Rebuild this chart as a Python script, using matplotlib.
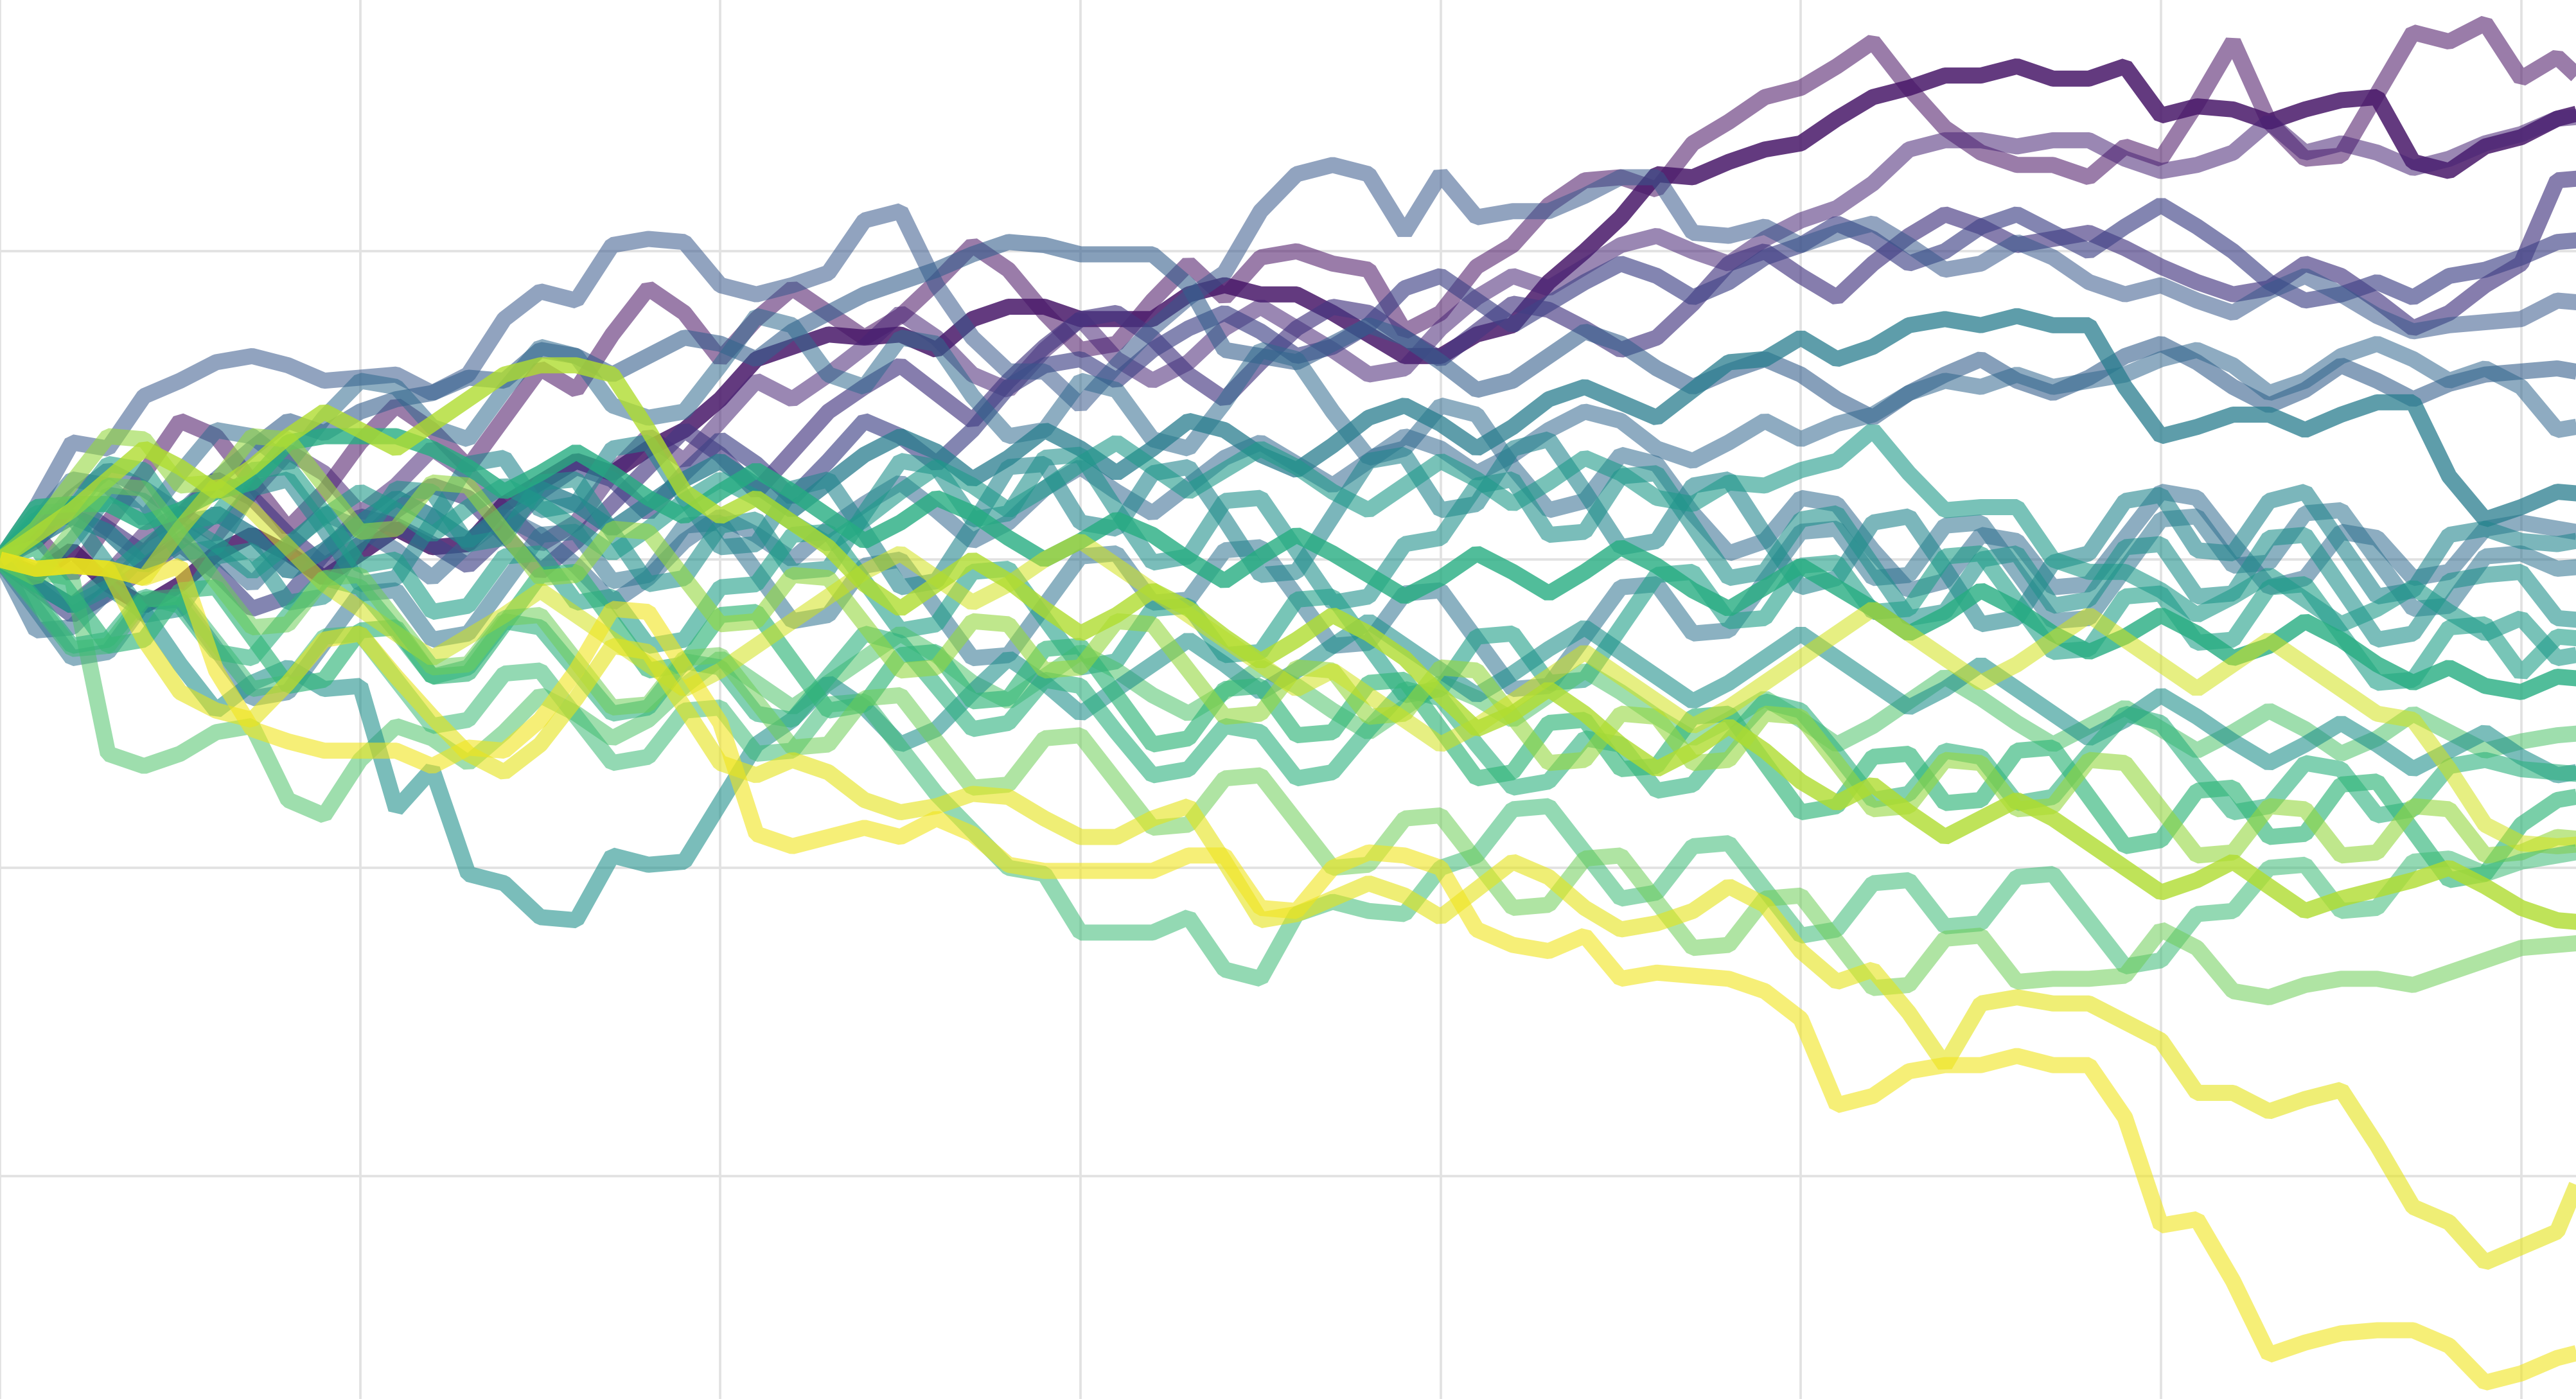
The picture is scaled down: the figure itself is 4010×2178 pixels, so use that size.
import numpy as np
import matplotlib
matplotlib.use("Agg")
import matplotlib.pyplot as plt

steps = np.arange(73)

# one list per walk, values per step (top finisher first)
purple_top = [0, 0.8, -0.5, 1.2, 2.8, 4.5, 4.0, 2.5, 1.0, 2.2,
              3.8, 5.0, 4.2, 3.0, 4.6, 6.2, 5.5, 7.3, 8.8, 8.0,
              6.5, 7.8, 8.8, 8.0, 7.2, 7.9, 9.0, 10.2, 9.4, 8.0,
              6.8, 7.0, 8.4, 9.6, 8.5, 9.8, 10.0, 9.6, 9.4, 7.4,
              8.0, 9.5, 10.2, 11.5, 12.3, 12.4, 12.0, 13.5, 14.2, 15.0,
              15.3, 16.0, 16.8, 15.3, 14.0, 13.2, 12.8, 12.8, 12.4, 13.4,
              13.0, 14.8, 16.8, 14.2, 13.0, 13.1, 15.1, 17.1, 16.8, 17.4,
              15.6, 16.3, 15.2]
purple_dark = [0, -0.5, 0.3, -0.8, -1.5, -0.8, 0.2, 0.8, 0.2, -0.6,
               0.2, 1.0, 0.4, 0.5, 1.8, 2.5, 3.2, 2.8, 3.6, 4.2,
               5.2, 6.5, 6.9, 7.3, 7.2, 7.3, 6.8, 7.8, 8.2, 8.2,
               7.8, 7.8, 7.8, 8.6, 8.9, 8.6, 8.6, 8.0, 7.3, 6.6,
               6.6, 7.3, 7.6, 9.0, 10.0, 11.1, 12.5, 12.4, 12.9, 13.3,
               13.5, 14.3, 15.0, 15.3, 15.7, 15.7, 16.0, 15.6, 15.6, 16.0,
               14.4, 14.7, 14.6, 14.2, 14.6, 14.9, 15.0, 12.9, 12.6, 13.4,
               13.7, 14.3, 14.6]
purple_pink = [0, -0.8, -1.5, -0.5, 0.8, 1.5, 0.8, 2.2, 3.5, 2.8,
               1.5, 2.4, 3.6, 2.8, 1.6, 0.5, 1.2, 2.8, 4.0, 3.2,
               4.5, 5.8, 5.2, 6.0, 6.9, 8.0, 7.2, 6.0, 5.5, 6.8,
               7.8, 6.5, 5.8, 6.4, 7.5, 8.2, 7.5, 6.8, 6.0, 6.2,
               7.5, 8.5, 9.2, 8.8, 9.5, 10.2, 10.5, 10.0, 9.6, 10.4,
               11.0, 11.4, 12.2, 13.3, 13.6, 13.6, 13.4, 13.6, 13.6, 13.0,
               12.6, 12.8, 13.2, 14.2, 13.2, 13.5, 13.2, 12.7, 13.0, 13.5,
               13.8, 14.3, 14.4]
indigo_jump = [0, 0.6, 1.8, 1.0, 0.2, 1.4, 2.6, 2.0, 0.8, -0.2,
               0.5, 1.6, 2.4, 2.0, 0.8, -0.4, 0.6, 1.8, 3.0, 4.2,
               3.4, 2.2, 3.5, 4.8, 5.6, 6.3, 5.4, 4.5, 5.8, 6.9,
               7.8, 8.0, 7.2, 6.0, 5.2, 6.4, 7.5, 8.2, 8.0, 7.2,
               6.5, 7.4, 8.3, 8.1, 7.5, 6.8, 7.2, 8.3, 9.6, 10.0,
               9.2, 8.5, 9.6, 10.5, 11.2, 10.8, 10.2, 10.4, 10.6, 10.1,
               9.5, 9.0, 8.6, 8.8, 9.6, 9.2, 8.4, 7.5, 8.0, 8.9,
               9.6, 12.3, 12.4]
indigo_blue = [0, -0.9, -1.8, -1.1, -0.3, 0.5, -0.4, -1.6, -1.2, 0.2,
               1.4, 1.1, 0.5, -0.2, 0.9, 2.2, 3.0, 2.6, 1.5, 2.8,
               3.9, 3.1, 2.0, 3.2, 4.5, 4.0, 3.1, 4.2, 5.6, 6.3,
               6.5, 5.8, 6.8, 7.5, 8.0, 7.4, 6.6, 6.9, 7.6, 8.8,
               9.2, 8.4, 7.6, 8.3, 9.0, 9.6, 9.2, 8.5, 9.0, 9.8,
               10.2, 10.9, 10.4, 9.6, 10.0, 10.8, 11.2, 10.6, 10.0, 10.8,
               11.5, 10.8, 10.0, 9.0, 8.4, 8.6, 9.0, 8.5, 9.2, 9.4,
               9.8, 10.3, 10.4]
slate_high = [0, 1.7, 3.8, 3.6, 5.3, 5.8, 6.4, 6.6, 6.3, 5.8,
              5.9, 6.0, 5.4, 6.0, 7.8, 8.7, 8.4, 10.2, 10.4, 10.3,
              8.9, 8.6, 8.9, 9.3, 11.0, 11.3, 8.9, 7.2, 6.1, 6.1,
              5.0, 6.3, 7.5, 8.5, 9.3, 11.3, 12.5, 12.8, 12.5, 10.6,
              12.5, 11.1, 11.3, 11.3, 11.8, 12.4, 12.4, 10.6, 10.5, 10.8,
              10.2, 10.6, 10.9, 10.2, 9.4, 9.6, 10.3, 9.8, 9.0, 8.6,
              8.9, 8.4, 8.0, 8.7, 9.2, 8.6, 7.9, 7.4, 7.6, 7.7,
              7.8, 8.4, 8.3]
steel_blue = [0, 0.8, 2.0, 2.9, 2.3, 1.5, 2.6, 3.6, 4.5, 4.1,
              4.8, 5.2, 5.4, 5.9, 5.8, 6.8, 6.6, 6.0, 6.6, 7.2,
              7.0, 6.5, 7.4, 8.0, 8.6, 9.0, 9.4, 9.9, 10.3, 10.2,
              9.9, 9.9, 9.9, 8.9, 6.8, 6.6, 6.4, 7.0, 7.6, 7.2,
              6.4, 5.5, 5.8, 6.6, 7.4, 7.0, 6.2, 5.6, 6.1, 6.5,
              6.0, 5.2, 4.6, 5.4, 6.0, 6.5, 5.8, 5.4, 5.9, 6.6,
              7.0, 6.4, 5.6, 5.0, 5.5, 6.3, 5.8, 5.2, 5.7, 6.0,
              6.1, 6.2, 6.0]
slate_mid = [0, -2.3, -2.2, -1.0, 0.2, 1.0, 0.2, -0.8, 0.4, 1.5,
             1.0, 0.3, -0.6, 0.5, 1.4, 0.8, -0.2, -1.4, -0.6, 0.6,
             1.4, 0.8, 0.0, 1.0, 1.8, 2.5, 1.6, 0.6, 1.2, 2.3,
             3.0, 2.2, 1.5, 2.4, 3.3, 3.8, 3.1, 2.4, 3.2, 4.0,
             3.6, 2.8, 3.4, 4.2, 4.8, 4.5, 3.6, 3.2, 3.8, 4.5,
             3.9, 4.4, 4.7, 5.4, 5.8, 5.6, 6.0, 5.6, 5.8, 6.0,
             6.5, 6.8, 6.3, 5.4, 5.8, 6.6, 7.0, 6.5, 5.8, 6.2,
             5.6, 4.2, 4.4]
slate_low = [0, 1.2, 2.6, 2.4, 1.3, 2.8, 4.2, 4.0, 3.1, 4.6,
             5.8, 5.6, 4.3, 3.9, 5.5, 6.9, 6.6, 5.0, 4.6, 4.8,
             6.3, 7.9, 7.6, 6.0, 5.6, 7.2, 7.0, 5.3, 4.0, 4.2,
             5.8, 5.5, 3.9, 3.6, 5.1, 6.8, 6.5, 4.8, 3.3, 3.6,
             5.0, 4.7, 3.0, 1.6, 1.9, 3.4, 3.1, 1.5, 0.2, 0.6,
             2.0, 1.8, 0.3, -1.0, -0.7, 0.8, 0.6, -0.9, -0.8, 0.7,
             2.2, 2.0, 0.5, -0.9, -0.6, 0.9, 0.7, -0.6, -0.4, 1.0,
             1.2, 1.0, 0.8]
slate_flat = [0, -1.6, -3.2, -3.0, -1.4, -1.3, -2.9, -4.5, -4.3, -2.7,
              -1.1, -1.0, -2.6, -2.4, -0.8, 0.8, 0.9, -0.7, -0.5, 1.1,
              1.2, -0.4, -2.0, -1.8, -0.2, 0.0, -1.6, -3.2, -3.1, -1.5,
              0.1, 0.2, -1.4, -1.3, 0.3, 0.4, -1.2, -2.8, -2.7, -1.1,
              -1.0, -2.6, -4.2, -4.1, -2.5, -0.9, -0.8, -2.4, -2.3, -0.7,
              0.9, 1.0, -0.6, -0.5, 1.1, 1.2, -0.4, -2.0, -1.9, -0.3,
              1.3, 1.4, -0.2, -0.1, 1.5, 1.6, 0.0, -1.6, -1.5, 0.1,
              0.2, -0.3, -0.2]
teal_dark = [0, 0.7, 1.4, 0.9, -0.2, 0.6, 1.5, 0.8, -0.4, 0.3,
             1.2, 2.0, 1.4, 0.6, 1.5, 2.3, 1.8, 1.0, 1.8, 2.6,
             3.2, 2.4, 1.6, 2.5, 3.4, 4.0, 3.5, 2.6, 3.3, 4.2,
             3.6, 2.8, 3.6, 4.5, 4.2, 3.4, 2.9, 3.7, 4.6, 5.0,
             4.4, 3.6, 4.3, 5.2, 5.6, 5.1, 4.6, 5.5, 6.4, 6.5,
             7.2, 6.5, 6.9, 7.6, 7.8, 7.6, 7.9, 7.6, 7.6, 5.6,
             4.0, 4.3, 4.7, 4.7, 4.2, 4.7, 5.1, 5.1, 2.7, 1.3,
             1.7, 2.2, 2.1]
teal_a = [0, -0.5, 0.6, 2.1, 1.9, 0.2, 0.4, 2.3, 2.6, 1.0,
          -0.8, -0.6, 1.2, 3.1, 3.3, 1.6, 1.8, 3.6, 3.8, 2.0,
          0.4, 0.5, 2.3, 2.6, 0.9, -0.9, -0.7, 1.1, 3.0, 3.1,
          1.2, 1.0, 2.8, 3.0, 1.3, -0.5, -0.4, 1.4, 3.2, 3.4,
          1.6, 1.8, 3.6, 3.9, 2.2, 0.4, 0.6, 2.4, 2.6, 0.8,
          -0.9, -0.6, 1.2, 1.4, -0.3, -2.1, -1.9, -0.1, 0.2, 1.9,
          2.1, 0.3, 0.2, 1.9, 2.2, 0.5, -1.2, -1.0, 0.8, 1.0,
          0.6, 0.5, 0.7]
teal_b = [0, 1.3, 1.4, -0.2, -1.8, -1.6, 0.1, 0.3, -1.4, -1.2,
          0.6, 2.3, 2.2, 0.5, 0.7, 2.5, 2.6, 0.9, -0.8, -0.6,
          1.1, 1.3, -0.4, -0.3, 1.5, 3.2, 3.0, 1.3, 1.5, 3.3,
          3.4, 1.6, -0.1, 0.1, 1.9, 2.0, 0.3, -1.4, -1.2, 0.5,
          0.7, 2.4, 2.6, 0.8, 0.9, 2.7, 2.8, 1.1, -0.6, -0.4,
          1.3, 1.5, -0.2, -1.9, -1.7, 0.0, 0.2, -1.5, -1.3, 0.4,
          0.5, -1.2, -1.1, 0.7, 0.8, -0.9, -2.6, -2.4, -0.7, -0.5,
          -0.4, -1.9, -2.0]
teal_green_a = [0, 1.5, 1.6, 3.1, 2.9, 1.2, 1.4, 2.9, 3.0, 1.5,
                -0.2, 0.0, -1.7, -1.5, 0.1, 0.2, -1.4, -1.2, -2.8, -2.6,
                -0.9, -0.8, 0.8, 0.9, -0.7, -2.3, -2.1, -0.4, -0.3, -1.9,
                -3.5, -3.3, -1.6, -1.5, -3.1, -3.0, -1.3, -1.2, -2.8, -4.4,
                -4.2, -2.5, -2.4, -4.0, -3.9, -2.2, -0.5, -0.4, -2.0, -1.9,
                -0.2, -0.1, -1.7, -1.6, 0.1, 0.2, -1.4, -3.0, -2.9, -1.2,
                -1.1, -2.7, -2.6, -0.9, -0.8, -2.4, -4.0, -3.9, -2.2, -2.1,
                -3.7, -2.5, -2.6]
teal_green_b = [0, -0.8, -1.5, -0.6, 0.4, 1.2, 0.5, -0.4, 0.5, 1.4,
                2.2, 1.6, 0.8, 1.7, 2.4, 1.8, 1.0, 0.2, 1.0, 1.9,
                2.6, 2.0, 1.2, 0.5, 1.3, 2.2, 3.0, 2.4, 1.6, 2.3,
                3.1, 3.8, 3.0, 2.2, 2.9, 3.6, 3.0, 2.2, 1.6, 2.4,
                3.2, 2.6, 1.8, 2.5, 3.3, 2.8, 2.0, 1.8, 2.5, 2.4,
                2.9, 3.2, 4.2, 2.8, 1.6, 1.7, 1.7, 0.0, -0.4, -0.4,
                -1.0, -1.8, -1.2, -0.5, -1.3, -2.1, -1.6, -0.9, -1.7, -2.4,
                -1.9, -3.2, -3.0]
green_bold = [0, 1.7, 1.8, 1.8, 1.2, 1.6, 2.2, 2.5, 3.8, 4.0,
              4.0, 4.0, 3.6, 3.0, 2.2, 2.8, 3.5, 2.8, 2.0, 1.4,
              2.2, 2.9, 2.2, 1.4, 0.6, 1.2, 2.0, 1.5, 0.7, 0.0,
              0.6, 1.3, 0.8, 0.0, -0.7, 0.1, 0.8, 0.2, -0.5, -1.2,
              -0.6, 0.2, -0.4, -1.1, -0.4, 0.4, -0.2, -1.0, -1.6, -0.9,
              -0.2, -0.9, -1.6, -2.4, -1.8, -1.0, -1.6, -2.4, -3.0, -2.5,
              -1.8, -2.4, -3.2, -2.8, -2.0, -2.6, -3.4, -4.0, -3.5, -4.1,
              -4.3, -3.8, -3.9]
lime_drop = [0, -0.4, -0.6, -6.3, -6.7, -6.3, -5.6, -5.4, -7.8, -8.3,
             -6.5, -5.4, -5.8, -6.6, -5.6, -4.4, -5.0, -5.8, -5.2, -4.1,
             -3.2, -4.0, -4.8, -4.0, -3.2, -2.4, -3.1, -4.0, -4.6, -3.8,
             -3.0, -3.6, -4.4, -5.0, -4.3, -3.5, -4.1, -4.9, -5.6, -4.8,
             -4.0, -4.5, -5.2, -4.4, -3.6, -4.3, -5.1, -5.8, -5.2, -4.5,
             -5.2, -6.0, -5.4, -4.6, -3.8, -4.5, -5.3, -6.0, -5.4, -4.8,
             -5.5, -6.2, -5.6, -4.9, -5.5, -6.3, -5.8, -5.0, -5.6, -6.2,
             -5.9, -5.7, -5.6]
teal_dip = [0, -0.8, -1.5, -0.9, -1.7, -3.4, -4.9, -4.0, -3.5, -4.2,
            -4.1, -8.1, -6.8, -10.2, -10.5, -11.6, -11.7, -9.6, -9.9, -9.8,
            -7.9, -6.0, -5.2, -4.0, -4.8, -6.0, -5.5, -4.3, -3.2, -4.0,
            -5.0, -4.2, -3.4, -2.6, -3.4, -4.3, -3.6, -2.8, -2.0, -2.8,
            -3.6, -4.4, -3.7, -2.9, -2.2, -3.0, -3.8, -4.6, -4.0, -3.2,
            -2.4, -3.2, -4.0, -4.8, -4.2, -3.4, -4.2, -5.0, -5.8, -5.2,
            -4.4, -5.1, -5.9, -6.6, -6.0, -5.3, -6.0, -6.8, -6.2, -5.6,
            -6.4, -7.0, -6.8]
green_low = [0, -1.3, -2.8, -2.6, -1.2, -1.5, -3.0, -3.2, -1.8, -0.6,
             -0.9, -2.3, -3.8, -3.5, -2.0, -2.2, -3.6, -5.0, -4.8, -3.3,
             -3.5, -5.0, -5.2, -3.8, -2.4, -2.7, -4.1, -5.5, -5.3, -3.9,
             -4.1, -5.6, -7.0, -6.8, -5.4, -5.6, -7.1, -6.9, -5.5, -4.2,
             -4.5, -6.0, -7.4, -7.2, -5.8, -6.0, -7.5, -7.3, -5.9, -4.6,
             -4.9, -6.3, -7.8, -7.6, -6.2, -6.4, -7.9, -7.7, -6.3, -5.0,
             -5.3, -6.8, -8.2, -8.0, -6.6, -6.8, -8.3, -8.1, -6.7, -6.5,
             -6.8, -6.9, -7.0]
green_mid = [0, 0.4, -1.2, -2.8, -2.6, -1.0, -0.9, -2.5, -4.1, -3.9,
             -2.3, -2.2, -3.8, -3.7, -2.1, -0.5, -0.4, -2.0, -3.6, -3.4,
             -1.8, -1.7, -3.3, -4.9, -4.7, -3.1, -3.0, -4.6, -4.5, -2.9,
             -2.8, -4.4, -6.0, -5.8, -4.2, -4.1, -5.7, -5.6, -4.0, -3.9,
             -5.5, -7.1, -6.9, -5.3, -5.2, -6.8, -6.7, -5.1, -5.0, -6.6,
             -8.2, -8.0, -6.4, -6.3, -7.9, -7.8, -6.2, -6.1, -7.7, -9.3,
             -9.1, -7.5, -7.4, -9.0, -8.9, -7.3, -7.2, -8.8, -10.4, -10.2,
             -8.6, -7.8, -7.6]
olive = [0, 1.0, 2.5, 4.0, 3.9, 2.4, 2.5, 4.0, 3.9, 2.4,
         0.9, 1.0, 2.5, 2.4, 0.9, -0.6, -0.5, 1.0, 0.9, -0.6,
         -2.1, -2.0, -0.5, -0.6, -2.1, -3.6, -3.5, -2.0, -2.1, -3.6,
         -3.5, -2.0, -2.1, -3.6, -5.1, -5.0, -3.5, -3.6, -5.1, -5.0,
         -3.5, -3.6, -5.1, -6.6, -6.5, -5.0, -5.1, -6.6, -6.5, -5.0,
         -5.1, -6.6, -8.1, -8.0, -6.5, -6.6, -8.1, -8.0, -6.5, -6.6,
         -8.1, -9.6, -9.5, -8.0, -8.1, -9.6, -9.5, -8.0, -8.1, -9.6,
         -9.5, -9.0, -9.1]
pale_yellow = [0, -0.3, -0.2, -0.3, -0.6, 1.0, 2.4, 1.6, 0.4, -0.8,
               -1.6, -2.4, -3.2, -2.5, -1.8, -1.0, -1.8, -2.6, -3.4, -4.2,
               -3.6, -2.8, -2.0, -1.2, -0.4, 0.2, -0.6, -1.4, -0.8, 0.0,
               0.6, -0.2, -1.0, -1.8, -2.6, -3.4, -4.2, -3.6, -4.4, -5.2,
               -6.0, -5.4, -4.6, -3.8, -3.0, -3.8, -4.6, -5.4, -4.8, -4.0,
               -3.2, -2.4, -1.6, -2.4, -3.2, -4.0, -3.4, -2.6, -1.8, -2.6,
               -3.4, -4.2, -3.4, -2.6, -3.4, -4.2, -5.0, -5.2, -6.8, -8.6,
               -9.2, -9.3, -9.2]
lime_a = [0, -1.4, -2.9, -2.8, -1.3, -1.2, -2.7, -4.2, -4.0, -2.5,
          -2.4, -3.9, -5.4, -5.2, -3.7, -3.6, -5.1, -6.6, -6.4, -4.9,
          -4.8, -6.3, -6.2, -4.7, -4.6, -6.1, -7.6, -8.8, -10.0, -10.2,
          -12.1, -12.1, -12.1, -11.6, -13.3, -13.6, -11.5, -11.1, -11.4, -11.5,
          -10.0, -9.6, -8.1, -8.0, -9.5, -11.0, -10.8, -9.3, -9.2, -10.7,
          -12.2, -12.0, -10.5, -10.4, -11.9, -11.8, -10.3, -10.2, -11.7, -13.2,
          -13.0, -11.5, -11.4, -10.0, -9.9, -11.4, -11.3, -9.8, -9.7, -10.2,
          -9.8, -9.6, -9.4]
yellow_green = [0, 0.8, 1.6, 2.6, 3.6, 3.0, 2.2, 3.0, 4.0, 4.8,
                4.2, 3.6, 4.4, 5.2, 6.0, 6.3, 6.3, 6.0, 4.2, 2.2,
                1.4, 2.0, 1.2, 0.4, -0.8, -1.6, -0.8, 0.0, -0.7, -1.6,
                -2.4, -1.8, -1.0, -1.6, -2.5, -3.3, -2.6, -1.8, -2.4, -3.2,
                -4.4, -5.5, -5.0, -4.2, -5.0, -6.0, -6.8, -6.2, -5.4, -6.2,
                -7.2, -7.9, -7.3, -8.2, -9.0, -8.4, -7.8, -8.4, -9.2, -10.0,
                -10.8, -10.4, -9.8, -10.6, -11.4, -11.0, -10.7, -10.4, -10.0, -10.6,
                -11.3, -11.7, -11.8]
lime_b = [0, -0.6, 0.9, 2.4, 2.3, 0.8, -0.7, -2.2, -2.1, -0.6,
          -0.5, -2.0, -3.5, -3.4, -1.9, -1.8, -3.3, -4.8, -4.7, -3.2,
          -3.1, -4.6, -6.1, -6.0, -4.5, -4.4, -5.9, -7.4, -7.3, -5.8,
          -5.7, -7.2, -8.7, -8.6, -7.1, -7.0, -8.5, -10.0, -9.9, -8.4,
          -8.3, -9.8, -11.3, -11.2, -9.7, -9.6, -11.1, -12.6, -12.5, -11.0,
          -10.9, -12.4, -13.9, -13.8, -12.3, -12.2, -13.7, -13.6, -13.6, -13.5,
          -12.0, -12.6, -14.0, -14.2, -13.8, -13.6, -13.6, -13.8, -13.4, -13.0,
          -12.6, -12.5, -12.4]
yellow_b = [0, -0.3, -0.2, -0.3, -2.6, -4.3, -4.9, -5.2, -4.0, -2.6,
            -2.4, -3.8, -5.1, -6.3, -6.9, -6.0, -4.5, -2.8, -3.0, -4.8,
            -6.6, -7.0, -6.5, -6.9, -7.8, -8.2, -8.0, -7.6, -7.7, -8.4,
            -9.0, -9.0, -8.4, -8.0, -9.8, -11.7, -11.5, -11.0, -10.5, -10.9,
            -11.6, -10.7, -9.8, -10.3, -11.3, -12.0, -11.8, -11.4, -10.6, -11.2,
            -12.7, -13.7, -13.3, -14.7, -16.4, -14.4, -14.2, -14.4, -14.4, -15.0,
            -15.6, -17.3, -17.3, -17.9, -17.5, -17.2, -19.0, -21.0, -21.5, -22.8,
            -22.3, -21.8, -19.0]
yellow_a = [0, -0.3, -0.2, -0.3, -0.6, -0.2, -3.6, -5.5, -5.9, -6.2,
            -6.2, -6.2, -6.7, -6.1, -6.2, -5.2, -3.6, -1.6, -1.7, -3.5,
            -5.3, -8.9, -9.3, -9.0, -8.7, -9.0, -8.4, -8.9, -9.9, -10.1,
            -10.1, -10.1, -10.1, -9.6, -9.6, -11.3, -11.4, -10.0, -9.5, -9.6,
            -10.0, -12.0, -12.5, -12.7, -12.2, -13.6, -13.4, -13.5, -13.6, -14.0,
            -14.9, -17.7, -17.4, -16.6, -16.4, -16.4, -16.1, -16.4, -16.4, -18.1,
            -21.6, -21.4, -23.4, -25.8, -25.4, -25.1, -25.0, -25.0, -25.5, -26.7,
            -26.4, -25.9, -25.6]

walks = [purple_top, purple_dark, purple_pink, indigo_jump, indigo_blue,
         slate_high, steel_blue, slate_mid, slate_low, slate_flat,
         teal_dark, teal_a, teal_b, teal_green_a, teal_green_b, green_bold,
         lime_drop, teal_dip, green_low, green_mid, olive, pale_yellow,
         lime_a, yellow_green, lime_b, yellow_b, yellow_a]

# position on viridis and opacity for each walk
shade = [0.04, 0.06, 0.10, 0.16, 0.20, 0.27, 0.30, 0.33, 0.34, 0.37,
         0.42, 0.46, 0.50, 0.56, 0.54, 0.62, 0.72, 0.50, 0.64, 0.66,
         0.84, 0.93, 0.68, 0.88, 0.78, 0.96, 0.98]
opacity = [0.55, 0.85, 0.55, 0.65, 0.65, 0.55, 0.6, 0.55, 0.55, 0.55,
           0.75, 0.6, 0.6, 0.6, 0.6, 0.8, 0.55, 0.6, 0.6, 0.65,
           0.6, 0.55, 0.55, 0.8, 0.55, 0.6, 0.6]

cmap = plt.get_cmap("viridis")

fig = plt.figure(figsize=(4011 / 300, 2178 / 300), dpi=300)
ax = fig.add_axes([0, 0, 1, 1])

for vals, t, a in zip(walks, shade, opacity):
    ax.plot(steps, vals, color=cmap(t), alpha=a, lw=6.0,
            solid_joinstyle="bevel", solid_capstyle="butt")

ax.set_xlim(0.17, 71.54)
ax.set_ylim(-27.23, 18.15)
ax.set_xticks(np.arange(0, 80, 10))
ax.set_yticks([-20, -10, 0, 10])
ax.grid(True, color="#e2e2e2", lw=0.9)
ax.set_axisbelow(True)
ax.tick_params(length=0, labelbottom=False, labelleft=False)
for s in ax.spines.values():
    s.set_visible(False)

fig.savefig("out.png", dpi=300)
